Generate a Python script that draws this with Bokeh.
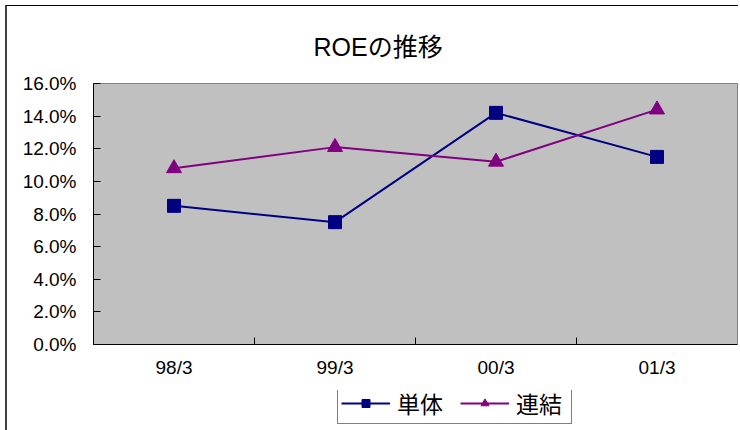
from bokeh.plotting import figure
from bokeh.layouts import column
from bokeh.models import (Range1d, FactorRange, LinearAxis, CategoricalAxis, FixedTicker,
                          PrintfTickFormatter, Legend, LegendItem)
from bokeh.embed import file_html
from bokeh.resources import INLINE

periods = ["98/3", "99/3", "00/3", "01/3"]
tantai = [8.5, 7.5, 14.2, 11.5]      # 単体 ROE (%)
renketsu = [10.8, 12.1, 11.2, 14.4]  # 連結 ROE (%)
y_ticks = [0, 2, 4, 6, 8, 10, 12, 14, 16]
category_edges = [1, 2, 3]

FONT = "'Liberation Sans', 'Noto Sans CJK JP'"
navy = "#000080"
purple = "#800080"

p = figure(width=731, height=384, output_backend="svg", toolbar_location=None,
           x_range=FactorRange(factors=periods, range_padding=0),
           y_range=Range1d(0, 16), x_axis_type=None, y_axis_type=None,
           min_border_left=86, min_border_right=1, min_border_top=77, min_border_bottom=46,
           background_fill_color="#C0C0C0", border_fill_color="white",
           outline_line_color="#808080")

p.title.text = "ROEの推移"
p.title.text_font = FONT
p.title.text_font_size = "25px"
p.title.text_font_style = "normal"
p.title.text_color = "black"
p.title.align = "left"
p.title.offset = 220
p.title.standoff = 46

# y axis
yax = LinearAxis(ticker=FixedTicker(ticks=y_ticks),
                 formatter=PrintfTickFormatter(format="%.1f%%"),
                 major_tick_in=7, major_tick_out=0, minor_tick_line_color=None,
                 axis_line_color="black", major_tick_line_color="black",
                 major_label_standoff=17, major_label_text_font=FONT,
                 major_label_text_font_size="19px", major_label_text_color="black")
p.add_layout(yax, "left")

# tick marks at category boundaries (closest to the frame)
edge_ax = LinearAxis(ticker=FixedTicker(ticks=category_edges),
                     major_tick_in=7, major_tick_out=0, minor_tick_line_color=None,
                     axis_line_color="black", major_tick_line_color="black",
                     major_label_text_font_size="1px", major_label_text_color=None,
                     major_label_standoff=0)
p.add_layout(edge_ax, "below")

cax = CategoricalAxis(axis_line_color=None, major_tick_line_color=None,
                      major_tick_in=0, major_tick_out=0,
                      major_label_standoff=12, major_label_text_font=FONT,
                      major_label_text_font_size="19px", major_label_text_color="black")
p.add_layout(cax, "below")

p.ygrid.ticker = FixedTicker(ticks=y_ticks)
p.ygrid.grid_line_color = "#111111"
p.ygrid.grid_line_width = 1
p.xgrid.grid_line_color = None

p.line(periods, tantai, line_color=navy, line_width=2)
p.scatter(periods, tantai, marker="square", size=13, fill_color=navy, line_color=navy)
p.line(periods, renketsu, line_color=purple, line_width=2)
p.scatter(periods, renketsu, marker="triangle", size=15, fill_color=purple, line_color=purple)

# legend strip below the chart (same series, drawn outside its visible range)
q = figure(width=731, height=40, output_backend="svg", toolbar_location=None,
           x_range=p.x_range, y_range=Range1d(100, 101),
           x_axis_type=None, y_axis_type=None,
           min_border_left=86, min_border_right=1, min_border_top=0, min_border_bottom=0,
           outline_line_color=None, background_fill_color="white", border_fill_color="white")
q.xgrid.grid_line_color = None
q.ygrid.grid_line_color = None
l1 = q.line(periods, tantai, line_color=navy, line_width=2)
m1 = q.scatter(periods, tantai, marker="square", size=13, fill_color=navy, line_color=navy)
l2 = q.line(periods, renketsu, line_color=purple, line_width=2)
m2 = q.scatter(periods, renketsu, marker="triangle", size=15, fill_color=purple, line_color=purple)

legend = Legend(items=[LegendItem(label="単体", renderers=[l1, m1]),
                       LegendItem(label="連結", renderers=[l2, m2])],
                orientation="horizontal", location=(244, 6),
                border_line_color="black", border_line_width=1,
                background_fill_color="white", background_fill_alpha=1,
                label_text_font=FONT, label_text_font_size="23px", label_text_color="black",
                glyph_width=49, glyph_height=20, label_standoff=7, label_width=52,
                spacing=11, padding=3, margin=0)
q.add_layout(legend, "center")

layout = column(p, q, spacing=0,
                styles={"margin-left": "5px", "margin-top": "5px",
                        "border-left": "2px solid #404040", "border-top": "1px solid #000"})

open("out.html", "w").write(file_html(layout, INLINE))
